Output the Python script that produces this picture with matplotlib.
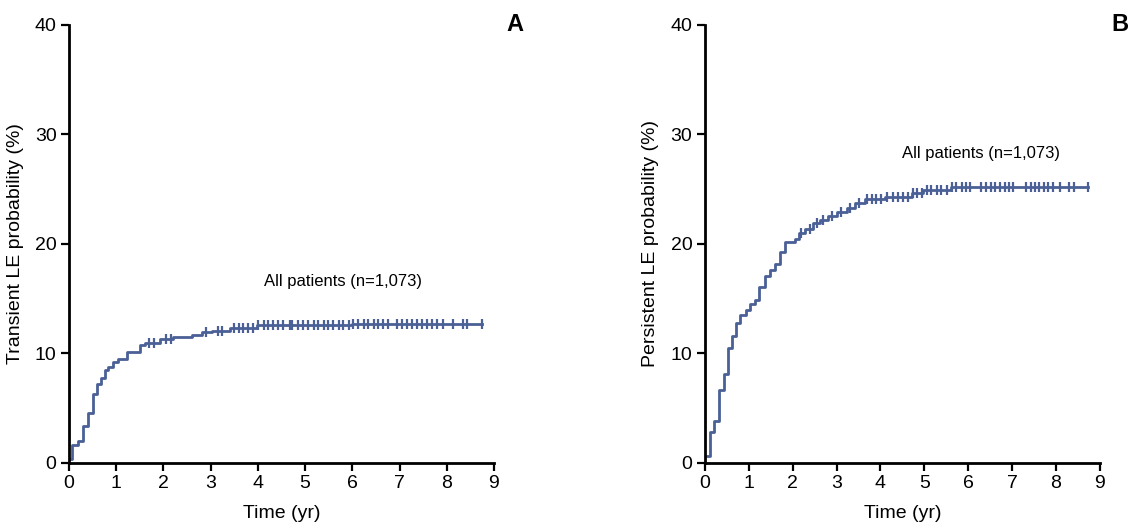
"""Cumulative incidence of transient and persistent LE, all patients."""

import matplotlib

matplotlib.use("Agg")
import matplotlib.pyplot as plt

LINE_COLOR = "#4a6096"
FONT = ["Liberation Sans", "DejaVu Sans"]

# panel A: transient LE, step times (yr) and probability (%) after each step
TRANSIENT_TIME = [0.0, 0.07, 0.20, 0.30, 0.41, 0.50, 0.59, 0.67, 0.76, 0.83,
                  0.94, 1.04, 1.22, 1.50, 1.61, 1.93, 2.20, 2.60, 2.81, 3.02,
                  3.41, 3.98, 5.99, 8.74]
TRANSIENT_PROB = [0.4, 1.6, 2.0, 3.4, 4.6, 6.3, 7.2, 7.8, 8.5, 8.8,
                  9.2, 9.5, 10.1, 10.8, 11.0, 11.3, 11.5, 11.7, 12.0, 12.1,
                  12.3, 12.6, 12.7, 12.7]
TRANSIENT_CENSOR = [1.70, 1.80, 2.05, 2.15, 2.90, 3.15, 3.25, 3.50, 3.60,
                    3.69, 3.80, 3.90, 4.01, 4.12, 4.22, 4.33, 4.43, 4.54,
                    4.67, 4.72, 4.86, 4.96, 5.07, 5.18, 5.28, 5.39, 5.49,
                    5.60, 5.71, 5.81, 5.92, 6.02, 6.13, 6.24, 6.34, 6.45,
                    6.55, 6.66, 6.76, 6.94, 7.05, 7.15, 7.26, 7.37, 7.47,
                    7.58, 7.68, 7.79, 7.93, 8.14, 8.35, 8.43, 8.74]

# panel B: persistent LE
PERSISTENT_TIME = [0.0, 0.11, 0.20, 0.33, 0.43, 0.52, 0.61, 0.71, 0.81, 0.93,
                   1.03, 1.14, 1.24, 1.37, 1.48, 1.59, 1.71, 1.82, 2.05, 2.15,
                   2.28, 2.47, 2.62, 2.81, 3.01, 3.23, 3.42, 3.64, 4.10, 4.71,
                   4.97, 5.60, 8.73]
PERSISTENT_PROB = [0.6, 2.8, 3.8, 6.7, 8.1, 10.5, 11.6, 12.8, 13.5, 14.0,
                   14.5, 14.9, 16.1, 17.1, 17.6, 18.2, 19.3, 20.2, 20.5, 21.0,
                   21.4, 21.9, 22.2, 22.6, 22.9, 23.3, 23.7, 24.1, 24.3, 24.7,
                   24.9, 25.2, 25.2]
PERSISTENT_CENSOR = [2.20, 2.40, 2.55, 2.70, 2.90, 3.10, 3.30, 3.50, 3.70,
                     3.80, 3.90, 4.02, 4.14, 4.28, 4.40, 4.52, 4.63, 4.75,
                     4.84, 4.94, 5.05, 5.16, 5.28, 5.39, 5.51, 5.64, 5.73,
                     5.85, 5.95, 6.04, 6.30, 6.40, 6.51, 6.61, 6.72, 6.83,
                     6.93, 7.02, 7.31, 7.42, 7.52, 7.61, 7.72, 7.82, 7.93,
                     8.09, 8.30, 8.41, 8.73]

X_TICKS = list(range(0, 10))
Y_TICKS = [0, 10, 20, 30, 40]


def step_value(times, probs, t):
    """Value of a right-continuous step curve at time t."""
    value = probs[0]
    for ti, pi in zip(times, probs):
        if ti <= t:
            value = pi
    return value


def draw_panel(ax, times, probs, censor, ylabel, letter, note_xy):
    ax.step(times, probs, where="post", color=LINE_COLOR, linewidth=2.0)
    cy = [step_value(times, probs, t) for t in censor]
    ax.plot(censor, cy, linestyle="none", marker="|", markersize=7,
            markeredgewidth=1.6, color=LINE_COLOR)
    ax.set_xlim(0, 9)
    ax.set_ylim(0, 40)
    ax.set_xticks(X_TICKS)
    ax.set_yticks(Y_TICKS)
    for side in ("top", "right"):
        ax.spines[side].set_visible(False)
    for side in ("left", "bottom"):
        ax.spines[side].set_linewidth(2.0)
    ax.tick_params(direction="out", length=6, width=1.6, labelsize=14, pad=3)
    for lab in ax.get_xticklabels() + ax.get_yticklabels():
        lab.set_family(FONT)
    ax.set_xlabel("Time (yr)", fontsize=14, family=FONT, labelpad=9)
    ax.set_ylabel(ylabel, fontsize=14, family=FONT, labelpad=8)
    ax.text(note_xy[0], note_xy[1], "All patients (n=1,073)", fontsize=12,
            family=FONT, ha="center", va="center")
    ax.text(1.05, 1.0, letter, transform=ax.transAxes, fontsize=17,
            fontweight="bold", family=FONT, ha="center", va="center")


def main():
    fig = plt.figure(figsize=(11.33, 5.25), dpi=100)
    ax_a = fig.add_axes([0.0609, 0.1181, 0.3751, 0.8343])
    ax_b = fig.add_axes([0.6222, 0.1181, 0.3486, 0.8343])
    draw_panel(ax_a, TRANSIENT_TIME, TRANSIENT_PROB, TRANSIENT_CENSOR,
               "Transient LE probability (%)", "A", (5.8, 16.6))
    draw_panel(ax_b, PERSISTENT_TIME, PERSISTENT_PROB, PERSISTENT_CENSOR,
               "Persistent LE probability (%)", "B", (6.3, 28.3))
    fig.savefig("out.png", dpi=100)
    plt.close(fig)


if __name__ == "__main__":
    main()
